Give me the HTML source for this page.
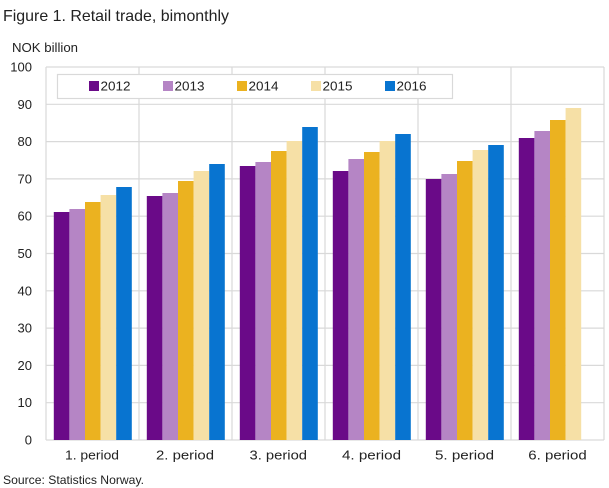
<!DOCTYPE html>
<html>
<head>
<meta charset="utf-8">
<style>
html,body{margin:0;padding:0;background:#fff;}
svg{display:block;}
text{font-family:"Liberation Sans",sans-serif;fill:#222;}
</style>
</head>
<body>
<svg width="609" height="488" viewBox="0 0 609 488" xmlns="http://www.w3.org/2000/svg">
  <rect width="609" height="488" fill="#fff"/>
  <text x="3" y="21" font-size="16" textLength="226" lengthAdjust="spacingAndGlyphs">Figure 1. Retail trade, bimonthly</text>
  <text x="12" y="52" font-size="13" fill="#333" textLength="66" lengthAdjust="spacingAndGlyphs">NOK billion</text>

  <!-- grid -->
  <g stroke="#d9d9d9" stroke-width="1.2" fill="none">
    <line x1="46" y1="440" x2="604" y2="440"/>
    <line x1="46" y1="402.7" x2="604" y2="402.7"/>
    <line x1="46" y1="365.4" x2="604" y2="365.4"/>
    <line x1="46" y1="328.1" x2="604" y2="328.1"/>
    <line x1="46" y1="290.8" x2="604" y2="290.8"/>
    <line x1="46" y1="253.5" x2="604" y2="253.5"/>
    <line x1="46" y1="216.2" x2="604" y2="216.2"/>
    <line x1="46" y1="178.9" x2="604" y2="178.9"/>
    <line x1="46" y1="141.6" x2="604" y2="141.6"/>
    <line x1="46" y1="104.3" x2="604" y2="104.3"/>
    <line x1="46" y1="67" x2="604" y2="67"/>
    <line x1="46" y1="67" x2="46" y2="440"/>
    <line x1="139" y1="67" x2="139" y2="440"/>
    <line x1="232" y1="67" x2="232" y2="440"/>
    <line x1="325" y1="67" x2="325" y2="440"/>
    <line x1="418" y1="67" x2="418" y2="440"/>
    <line x1="511" y1="67" x2="511" y2="440"/>
    <line x1="604" y1="67" x2="604" y2="440"/>
  </g>

  <!-- y labels -->
  <g font-size="13" fill="#333" text-anchor="end">
    <text x="32" y="444.5">0</text>
    <text x="32" y="407.2">10</text>
    <text x="32" y="369.9">20</text>
    <text x="32" y="332.6">30</text>
    <text x="32" y="295.3">40</text>
    <text x="32" y="258">50</text>
    <text x="32" y="220.7">60</text>
    <text x="32" y="183.4">70</text>
    <text x="32" y="146.1">80</text>
    <text x="32" y="108.8">90</text>
    <text x="32" y="71.5">100</text>
  </g>

  <!-- bars -->
  <g>
    <!-- group 1 -->
    <rect x="53.8" y="212" width="15.6" height="228" fill="#6a0a88"/>
    <rect x="69.4" y="209" width="15.6" height="231" fill="#b585c5"/>
    <rect x="85" y="202" width="15.6" height="238" fill="#ebb220"/>
    <rect x="100.6" y="195" width="15.6" height="245" fill="#f6e0a6"/>
    <rect x="116.2" y="187" width="15.6" height="253" fill="#0874d0"/>
    <!-- group 2 -->
    <rect x="146.8" y="196" width="15.6" height="244" fill="#6a0a88"/>
    <rect x="162.4" y="193" width="15.6" height="247" fill="#b585c5"/>
    <rect x="178" y="181" width="15.6" height="259" fill="#ebb220"/>
    <rect x="193.6" y="171" width="15.6" height="269" fill="#f6e0a6"/>
    <rect x="209.2" y="164" width="15.6" height="276" fill="#0874d0"/>
    <!-- group 3 -->
    <rect x="239.8" y="166" width="15.6" height="274" fill="#6a0a88"/>
    <rect x="255.4" y="162" width="15.6" height="278" fill="#b585c5"/>
    <rect x="271" y="151" width="15.6" height="289" fill="#ebb220"/>
    <rect x="286.6" y="141" width="15.6" height="299" fill="#f6e0a6"/>
    <rect x="302.2" y="127" width="15.6" height="313" fill="#0874d0"/>
    <!-- group 4 -->
    <rect x="332.8" y="171" width="15.6" height="269" fill="#6a0a88"/>
    <rect x="348.4" y="159" width="15.6" height="281" fill="#b585c5"/>
    <rect x="364" y="152" width="15.6" height="288" fill="#ebb220"/>
    <rect x="379.6" y="141" width="15.6" height="299" fill="#f6e0a6"/>
    <rect x="395.2" y="134" width="15.6" height="306" fill="#0874d0"/>
    <!-- group 5 -->
    <rect x="425.8" y="179" width="15.6" height="261" fill="#6a0a88"/>
    <rect x="441.4" y="174" width="15.6" height="266" fill="#b585c5"/>
    <rect x="457" y="161" width="15.6" height="279" fill="#ebb220"/>
    <rect x="472.6" y="150" width="15.6" height="290" fill="#f6e0a6"/>
    <rect x="488.2" y="145" width="15.6" height="295" fill="#0874d0"/>
    <!-- group 6 -->
    <rect x="518.8" y="138" width="15.6" height="302" fill="#6a0a88"/>
    <rect x="534.4" y="131" width="15.6" height="309" fill="#b585c5"/>
    <rect x="550" y="120" width="15.6" height="320" fill="#ebb220"/>
    <rect x="565.6" y="108" width="15.6" height="332" fill="#f6e0a6"/>
  </g>

  <!-- x labels -->
  <g font-size="13" fill="#333">
    <text x="65" y="459.5" textLength="54" lengthAdjust="spacingAndGlyphs">1. period</text>
    <text x="156" y="459.5" textLength="58" lengthAdjust="spacingAndGlyphs">2.  period</text>
    <text x="249.5" y="459.5" textLength="57.5" lengthAdjust="spacingAndGlyphs">3.  period</text>
    <text x="342" y="459.5" textLength="59" lengthAdjust="spacingAndGlyphs">4.  period</text>
    <text x="435" y="459.5" textLength="59" lengthAdjust="spacingAndGlyphs">5.  period</text>
    <text x="528.3" y="459.5" textLength="58.4" lengthAdjust="spacingAndGlyphs">6.  period</text>
  </g>

  <!-- legend -->
  <rect x="57.5" y="74.5" width="395" height="24" fill="#fff" stroke="#d9d9d9" stroke-width="1.2"/>
  <rect x="89" y="81" width="10" height="10" fill="#6a0a88"/>
  <rect x="163" y="81" width="10" height="10" fill="#b585c5"/>
  <rect x="237" y="81" width="10" height="10" fill="#ebb220"/>
  <rect x="311" y="81" width="10" height="10" fill="#f6e0a6"/>
  <rect x="385" y="81" width="10" height="10" fill="#0874d0"/>
  <g font-size="13" fill="#222">
    <text x="100.5" y="90.5" textLength="30" lengthAdjust="spacingAndGlyphs">2012</text>
    <text x="174.5" y="90.5" textLength="30" lengthAdjust="spacingAndGlyphs">2013</text>
    <text x="248.5" y="90.5" textLength="30" lengthAdjust="spacingAndGlyphs">2014</text>
    <text x="322.5" y="90.5" textLength="30" lengthAdjust="spacingAndGlyphs">2015</text>
    <text x="396.5" y="90.5" textLength="30" lengthAdjust="spacingAndGlyphs">2016</text>
  </g>

  <text x="3" y="484" font-size="12" fill="#222" textLength="141" lengthAdjust="spacingAndGlyphs">Source: Statistics Norway.</text>
</svg>
</body>
</html>
